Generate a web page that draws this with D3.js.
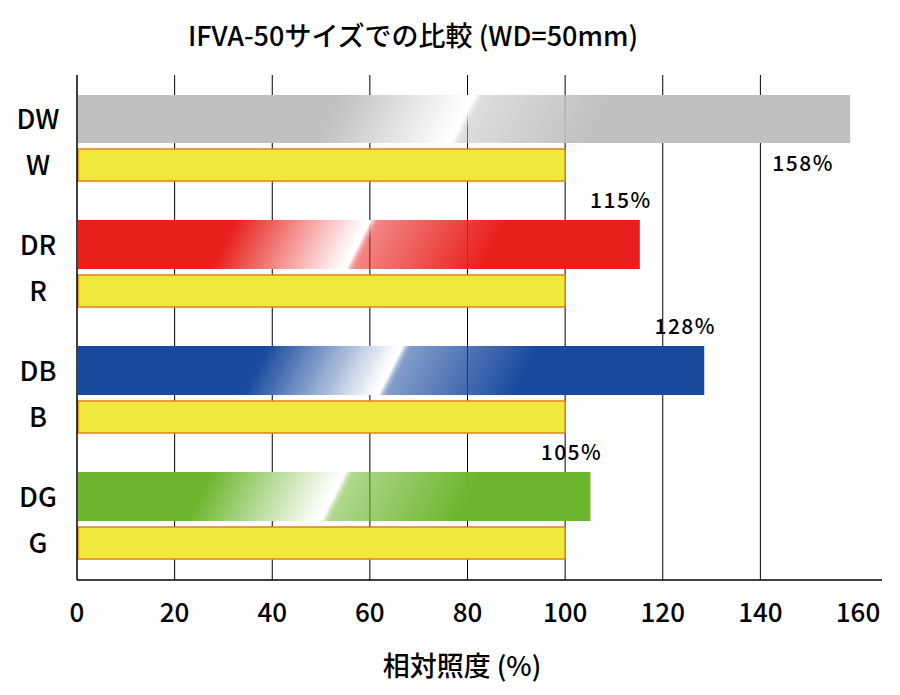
<!DOCTYPE html>
<html><head><meta charset="utf-8">
<script src="https://cdn.jsdelivr.net/npm/d3@7"></script>
<style>body{margin:0;background:#fff}text{font-family:"Noto Sans CJK JP","Noto Sans",sans-serif;font-weight:500}</style>
</head><body><svg id="c" width="900" height="695"></svg>
<script>
var categories = ["DW", "W", "DR", "R", "DB", "B", "DG", "G"];
var values = [158.4, 100, 115.3, 100, 128.5, 100, 105.2, 100];
var labels = ["158%", null, "115%", null, "128%", null, "105%", null];
var colors = ["#c0c0be", null, "#e8201c", null, "#1a4a9e", null, "#6cb62e", null];
var ticks = [0, 20, 40, 60, 80, 100, 120, 140, 160];

var svg = d3.select("#c");
var x = d3.scaleLinear().domain([0, 160]).range([77, 858]);
var rowTop = [95, 149, 220, 275, 346, 401, 472, 527];
var rowH = [48, 32, 49, 32, 49, 32, 49, 32];

var defs = svg.append("defs");
colors.forEach(function (c, i) {
    if (!c) return;
    var cx = (x(0) + x(values[i])) / 2, cy = rowTop[i] + rowH[i] / 2;
    var g = defs.append("linearGradient").attr("id", "g" + i)
        .attr("gradientUnits", "userSpaceOnUse")
        .attr("x1", cx - 180).attr("y1", cy - 90).attr("x2", cx + 180).attr("y2", cy + 90);
    g.append("stop").attr("offset", 0).attr("stop-color", c);
    g.append("stop").attr("offset", 0.2).attr("stop-color", c);
    g.append("stop").attr("offset", 0.49).attr("stop-color", "#fff");
    g.append("stop").attr("offset", 0.5).attr("stop-color", "#fff");
    g.append("stop").attr("offset", 0.52).attr("stop-color", c).attr("stop-opacity", 0.55);
    g.append("stop").attr("offset", 0.8).attr("stop-color", c);
    g.append("stop").attr("offset", 1).attr("stop-color", c);
});

svg.selectAll(".grid").data(ticks.slice(1, 8)).enter().append("line")
    .attr("x1", d => x(d)).attr("x2", d => x(d)).attr("y1", 75).attr("y2", 580)
    .attr("stroke", "#000").attr("stroke-width", 1);

svg.selectAll(".bar").data(values).enter().append("rect")
    .attr("x", x(0) + 1).attr("y", (d, i) => rowTop[i])
    .attr("width", d => x(d) - x(0) - 1).attr("height", (d, i) => rowH[i])
    .attr("fill", (d, i) => colors[i] ? "url(#g" + i + ")" : "#f0e83a")
    .attr("stroke", (d, i) => colors[i] ? "none" : "#e0801a")
    .attr("stroke-width", 1.5);

svg.append("line").attr("x1", 77).attr("x2", 77).attr("y1", 75).attr("y2", 580).attr("stroke", "#000").attr("stroke-width", 1.5);
svg.append("line").attr("x1", 77).attr("x2", 882).attr("y1", 580).attr("y2", 580).attr("stroke", "#000").attr("stroke-width", 1.5);

svg.selectAll(".xt").data(ticks).enter().append("text")
    .attr("x", d => x(d)).attr("y", 622).attr("text-anchor", "middle")
    .attr("font-size", 26).text(d => d);

svg.selectAll(".yl").data(categories).enter().append("text")
    .attr("x", 38).attr("y", (d, i) => rowTop[i] + rowH[i] / 2 + 10).attr("text-anchor", "middle")
    .attr("font-size", 27).text(d => d);

var lab = values.map((v, i) => ({v: v, i: i, t: labels[i]})).filter(d => d.t);
svg.selectAll(".vl").data(lab).enter().append("text")
    .attr("x", d => d.i === 0 ? x(d.v) - 47 : x(d.v) - 19)
    .attr("y", d => d.i === 0 ? 171 : rowTop[d.i] - 12)
    .attr("text-anchor", "middle").attr("font-size", 21).attr("letter-spacing", 1.5)
    .text(d => d.t);

svg.append("text").attr("x", 413).attr("y", 46).attr("text-anchor", "middle")
    .attr("font-size", 27).attr("font-weight", 400).text("IFVA-50サイズでの比較 (WD=50mm)");
svg.append("text").attr("x", 462).attr("y", 676).attr("text-anchor", "middle")
    .attr("font-size", 27).attr("font-weight", 400).text("相対照度 (%)");
</script></body></html>
